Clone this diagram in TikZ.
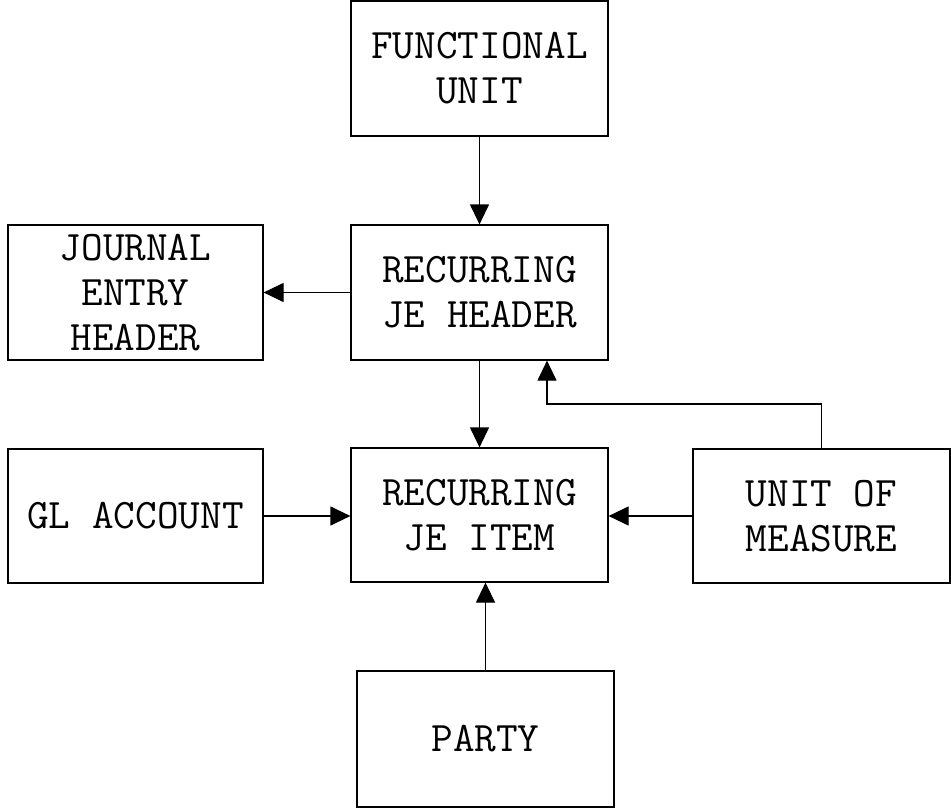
\documentclass[tikz,border=0pt]{standalone}
\usepackage{fontspec}
\usetikzlibrary{arrows.meta}
\begin{document}
\begin{tikzpicture}[x=1pt,y=-1pt,
  box/.style={draw,line width=1.2pt,minimum width=257pt,minimum height=135pt,inner sep=0pt,align=center,
    font=\ttfamily\fontsize{42pt}{45pt}\selectfont},
  conn/.style={line width=1.2pt,-{Triangle[length=20pt,width=19pt]}}]
\useasboundingbox (0,0) rectangle (951,808);
\fill[white] (0,0) rectangle (951,808);
\node[box] (fu) at (479.5,68.5) {FUNCTIONAL\\UNIT};
\node[box,minimum width=255pt] (jeh) at (135.5,292.5) {JOURNAL\\ENTRY\\HEADER};
\node[box] (rjh) at (479.5,292.5) {RECURRING\\JE HEADER};
\node[box,minimum width=255pt,minimum height=134pt] (gl) at (135.5,516) {GL ACCOUNT};
\node[box,minimum height=134pt] (rji) at (479.5,515) {RECURRING\\JE ITEM};
\node[box,minimum height=134pt] (uom) at (821.5,516) {UNIT OF\\MEASURE};
\node[box,minimum height=136pt] (party) at (485.5,739) {PARTY};
\coordinate (bend) at (547,404);
\draw[conn] (fu.south) -- (rjh.north);
\draw[conn] (rjh.west) -- (jeh.east);
\draw[conn] (rjh.south) -- (rji.north);
\draw[conn] (gl.east) -- (gl.east -| rji.west);
\draw[conn] (uom.west) -- (uom.west -| rji.east);
\draw[conn] (party.north) -- (party.north |- rji.south);
\draw[conn] (uom.north) |- (bend) -- (bend |- rjh.south);
\end{tikzpicture}
\end{document}
